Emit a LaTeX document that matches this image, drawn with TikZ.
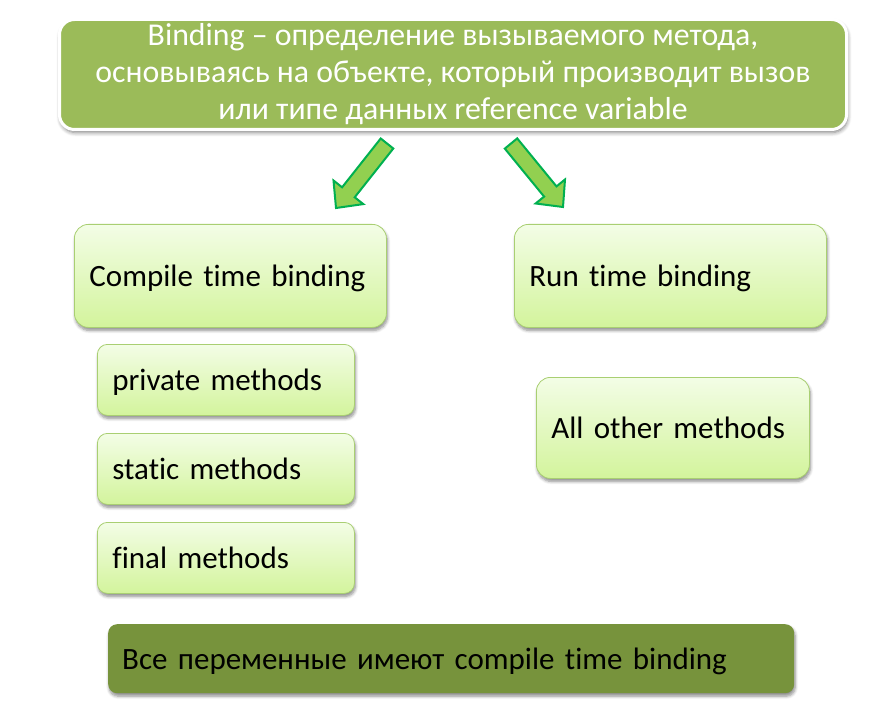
\documentclass[tikz,border=0pt]{standalone}
\usepackage{fontspec}
\setmainfont[Ligatures={NoCommon}]{Carlito}
\usetikzlibrary{shadows.blur}
\definecolor{topgreen}{HTML}{9BBB59}
\definecolor{botgreen}{HTML}{77933C}
\definecolor{lighttop}{HTML}{F3FDE6}
\definecolor{lightbot}{HTML}{D3F49C}
\definecolor{lightedge}{HTML}{A9CF72}
\definecolor{arrowfill}{HTML}{92D050}
\definecolor{arrowedge}{HTML}{00B050}
\tikzset{
  softshadow/.style={blur shadow={shadow xshift=1pt, shadow yshift=-3pt, shadow blur steps=6, shadow opacity=45, shadow blur radius=3pt}},
  lightbox/.style={rectangle, rounded corners=14pt, draw=lightedge, line width=0.8pt,
    top color=lighttop, bottom color=lightbot, softshadow,
    inner xsep=15pt, inner ysep=0pt, align=left, anchor=north west,
    text depth=0pt, font=\fontsize{31}{37}\selectfont, text=black},
  blockarrow/.style={fill=arrowfill, draw=arrowedge, line width=2pt, line join=miter},
}
\begin{document}
\begin{tikzpicture}[x=1pt,y=1pt]
\useasboundingbox (0,0) rectangle (880,-703);
% title
\node[rectangle, rounded corners=15pt, fill=topgreen, draw=white, line width=3pt,
  blur shadow={shadow xshift=1pt, shadow yshift=-3pt, shadow blur steps=6, shadow opacity=50, shadow blur radius=4pt},
  minimum width=787pt, minimum height=110pt, anchor=north west, inner sep=0pt,
  align=center, text=white, font=\fontsize{31.8}{37}\selectfont]
  (title) at (58,-18)
  {Binding – определение вызываемого метода,\\основываясь на объекте, который производит вызов\\или типе данных reference variable};
% arrows
\draw[blockarrow] (380.7,-138.5) -- (393.3,-148.5) -- (354.7,-197.3) -- (363.3,-204.1)
  -- (336,-208) -- (333.5,-180.5) -- (342.1,-187.3) -- cycle;
\draw[blockarrow] (517.2,-138.4) -- (556.5,-186.4) -- (565.0,-179.5) -- (563,-207)
  -- (535.6,-203.5) -- (544.1,-196.6) -- (504.8,-148.6) -- cycle;
% left column
\node[lightbox, minimum height=103pt, text width=282pt] (compile) at (74,-224) {Compile time binding};
\node[lightbox, minimum height=103pt, text width=282pt] (run) at (514,-224) {Run time binding};
\node[lightbox, minimum height=71pt, rounded corners=10pt, text width=227pt] (private) at (97,-344) {private methods};
\node[lightbox, minimum height=71pt, rounded corners=10pt, text width=227pt] (static) at (97,-433) {static methods};
\node[lightbox, minimum height=71pt, rounded corners=10pt, text width=227pt] (final) at (97,-522) {final methods};
\node[lightbox, minimum height=101pt, text width=243pt] (other) at (536,-377) {All other methods};
% bottom
\node[rectangle, rounded corners=9pt, fill=botgreen, softshadow,
  minimum height=69pt, text width=658pt, inner xsep=14pt, inner ysep=0pt, align=left,
  anchor=north west, text depth=0pt, font=\fontsize{31}{36}\selectfont, text=black]
  (all) at (108,-624) {Все переменные имеют compile time binding};
\end{tikzpicture}
\end{document}
